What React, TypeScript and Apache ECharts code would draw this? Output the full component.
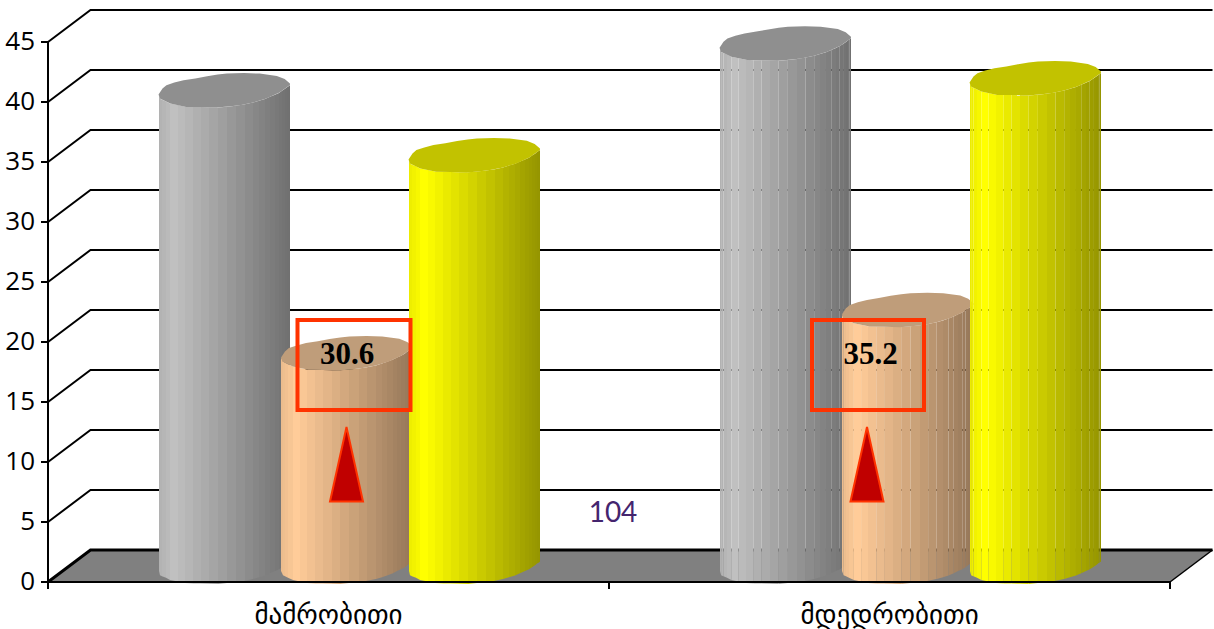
import React, { useEffect, useRef } from "react";
import * as echarts from "echarts";

const categories = ["მამრობითი", "მდედრობითი"];
const greyValues = [39.7, 43.6];
const tanValues = [17.8, 21.4];
const yellowValues = [34.3, 40.7];
const yTicks = [5, 10, 15, 20, 25, 30, 35, 40, 45];
const AX_MAX = 45;
const DX = 42.5;
const DY = -32;

const greyPalette = { side: [192, 192, 192], top: "#8f8f8f" };
const tanPalette = { side: [255, 204, 153], top: "#bf9d7a" };
const yellowPalette = { side: [255, 255, 0], top: "#c2c200" };
const STRIPS = [0, 0.012, 0.03, 0.055, 0.09, 0.145, 0.2, 0.26, 0.32, 0.385, 0.45, 0.52, 0.59, 0.655, 0.72, 0.765, 0.81, 0.85, 0.885, 0.915, 0.94, 0.96, 0.978, 0.99, 1];

// Outline of a cylinder's end, lumpy as in the picture: [fraction of width, y offset]
const TOP_EDGE = [[0, 5], [0.03, -1], [0.06, -4.3], [0.12, -7], [0.19, -9.3], [0.28, -11.2], [0.37, -13.4], [0.45, -15], [0.52, -16], [0.65, -16.5], [0.77, -16], [0.9, -13.7], [0.96, -10.5], [1, -6]];
const BOTTOM_EDGE = [[0, 5], [0.01, 9], [0.09, 14], [0.21, 17.3], [0.32, 17.5], [0.44, 18], [0.53, 17], [0.62, 15.7], [0.72, 13], [0.82, 9], [0.92, 3], [1, -4.5]];

const A = 65.7;

function shade(c: number[], frac: number) {
  const f = frac < 0.12 ? 0.92 + (frac / 0.12) * 0.08 : 1 - ((frac - 0.12) / 0.88) * 0.42;
  return `rgb(${Math.round(c[0] * f)},${Math.round(c[1] * f)},${Math.round(c[2] * f)})`;
}

function edgeAt(edge: number[][], frac: number) {
  for (let i = 0; i < edge.length - 1; i++) {
    if (frac <= edge[i + 1][0]) {
      const t = (frac - edge[i][0]) / (edge[i + 1][0] - edge[i][0]);
      return edge[i][1] + (edge[i + 1][1] - edge[i][1]) * t;
    }
  }
  return edge[edge.length - 1][1];
}

function cylinder(offset: number, palette: { side: number[]; top: string }) {
  return (params: any, api: any) => {
    const cat = api.value(0);
    const val = api.value(1);
    const base = api.coord([cat, 0]);
    const head = api.coord([cat, val]);
    const cx = base[0] + DX / 2 + offset;
    const by = base[1] + DY / 2;
    const ty = head[1] + DY / 2;
    const children: any[] = [];
    const snap = (x: number, i: number) => (cat === 0 || i % 3 === 0 ? Math.round(x) : x);
    for (let i = 0; i < STRIPS.length - 1; i++) {
      const a = STRIPS[i];
      const b = STRIPS[i + 1];
      const xa = snap(cx - A + 2 * A * a, i);
      const xb = snap(cx - A + 2 * A * b, i + 1);
      children.push({
        type: "polygon",
        shape: {
          points: [
            [xa, ty + edgeAt(BOTTOM_EDGE, a)],
            [xb, ty + edgeAt(BOTTOM_EDGE, b)],
            [xb, by + edgeAt(BOTTOM_EDGE, b)],
            [xa, by + edgeAt(BOTTOM_EDGE, a)],
          ],
        },
        style: { fill: shade(palette.side, (a + b) / 2) },
      });
    }
    const pts: number[][] = [];
    TOP_EDGE.forEach((p) => pts.push([cx - A + 2 * A * p[0], ty + p[1]]));
    BOTTOM_EDGE.slice().reverse().forEach((p) => pts.push([cx - A + 2 * A * p[0], ty + p[1]]));
    children.push({ type: "polygon", shape: { points: pts }, style: { fill: palette.top } });
    return { type: "group", children };
  };
}

function cylinderSeries(name: string, values: number[], offset: number, palette: any, z: number) {
  return {
    type: "custom",
    name,
    z,
    clip: false,
    silent: true,
    coordinateSystem: "cartesian2d",
    encode: { x: 0, y: 1 },
    data: values.map((v, i) => [i, v]),
    renderItem: cylinder(offset, palette),
  };
}

export default function App() {
  const ref = useRef<HTMLDivElement>(null);
  useEffect(() => {
    const chart = echarts.init(ref.current!, undefined, { renderer: "svg" });
    const option: any = {
      animation: false,
      backgroundColor: "#ffffff",
      grid: { left: 48, right: 44, top: 42, bottom: 47 },
      xAxis: {
        type: "category",
        data: categories,
        axisLine: { show: true, lineStyle: { color: "#000", width: 2 } },
        axisTick: { show: true, length: 7, lineStyle: { color: "#000", width: 2 } },
        axisLabel: { color: "#000", fontFamily: "DejaVu Sans", fontSize: 27, margin: 19 },
        splitLine: { show: false },
        z: 6,
      },
      yAxis: {
        type: "value",
        min: 0,
        max: AX_MAX,
        interval: 5,
        axisLine: { show: true, onZero: false, lineStyle: { color: "#000", width: 2 } },
        axisTick: { show: true, length: 7, lineStyle: { color: "#000", width: 2 } },
        axisLabel: {
          formatter: "{a|{value}}",
          margin: 13,
          rich: { a: { color: "#000", fontFamily: "Open Sans", fontSize: 26, padding: [0, 0, 4, 0] } },
        },
        splitLine: { show: false },
        z: 6,
      },
      graphic: [
        {
          type: "rect",
          z: 100,
          shape: { x: 297.5, y: 320, width: 113, height: 90 },
          style: { fill: "none", stroke: "#ff3300", lineWidth: 4 },
        },
        {
          type: "rect",
          z: 100,
          shape: { x: 812, y: 320, width: 112, height: 90 },
          style: { fill: "none", stroke: "#ff3300", lineWidth: 4 },
        },
        {
          type: "polygon",
          z: 100,
          shape: { points: [[346.5, 427], [330, 501.5], [363, 501.5]] },
          style: { fill: "#c00000", stroke: "#ff3300", lineWidth: 2 },
        },
        {
          type: "polygon",
          z: 100,
          shape: { points: [[867, 427], [850.5, 501.5], [883.5, 501.5]] },
          style: { fill: "#c00000", stroke: "#ff3300", lineWidth: 2 },
        },
        {
          type: "text",
          z: 101,
          x: 347,
          y: 353,
          style: { text: "30.6", fill: "#000", font: 'bold 31px "Liberation Serif"', textAlign: "center", textVerticalAlign: "middle" },
        },
        {
          type: "text",
          z: 101,
          x: 870.5,
          y: 353,
          style: { text: "35.2", fill: "#000", font: 'bold 31px "Liberation Serif"', textAlign: "center", textVerticalAlign: "middle" },
        },
        {
          type: "text",
          z: 101,
          x: 613,
          y: 511,
          style: { text: "104", fill: "#44256e", font: '400 28px "Lato"', textAlign: "center", textVerticalAlign: "middle" },
        },
      ],
      series: [
        {
          type: "custom",
          name: "floor",
          z: 1,
          clip: false,
          silent: true,
          coordinateSystem: "cartesian2d",
          encode: { x: 0, y: 1 },
          data: [[0, 0]],
          renderItem: (params: any, api: any) => {
            const p = api.coord([0, 0]);
            const x0 = p[0] - api.size([1, 0])[0] / 2;
            const x1 = x0 + api.size([1, 0])[0] * categories.length;
            const y0 = p[1];
            return {
              type: "group",
              children: [
                {
                  type: "polygon",
                  shape: { points: [[x0, y0], [x0 + DX, y0 + DY], [x1 + DX, y0 + DY], [x1, y0]] },
                  style: { fill: "#808080" },
                },
                {
                  type: "polyline",
                  shape: { points: [[x0, y0], [x0 + DX, y0 + DY], [x1 + DX, y0 + DY]] },
                  style: { fill: "none", stroke: "#000", lineWidth: 3 },
                },
                {
                  type: "line",
                  shape: { x1, y1: y0, x2: x1 + DX, y2: y0 + DY },
                  style: { stroke: "#000", lineWidth: 1.5 },
                },
              ],
            };
          },
        },
        {
          type: "custom",
          name: "wall",
          z: 1,
          clip: false,
          silent: true,
          coordinateSystem: "cartesian2d",
          encode: { x: 0, y: 1 },
          data: yTicks.map((t) => [0, t]),
          renderItem: (params: any, api: any) => {
            const p = api.coord([0, api.value(1)]);
            const w = api.size([1, 0])[0];
            const x0 = p[0] - w / 2;
            const x1 = x0 + w * categories.length;
            return {
              type: "polyline",
              shape: { points: [[x0, p[1]], [x0 + DX, p[1] + DY], [x1 + DX, p[1] + DY]] },
              style: { fill: "none", stroke: "#000", lineWidth: 2 },
            };
          },
        },
        cylinderSeries("grey", greyValues, -125.5, greyPalette, 2),
        cylinderSeries("tan", tanValues, -3, tanPalette, 3),
        cylinderSeries("yellow", yellowValues, 124.5, yellowPalette, 4),
      ],
    };
    chart.setOption(option);
    return () => chart.dispose();
  }, []);
  return <div ref={ref} style={{ position: "fixed", left: 0, top: 0, width: 1214, height: 629 }} />;
}
